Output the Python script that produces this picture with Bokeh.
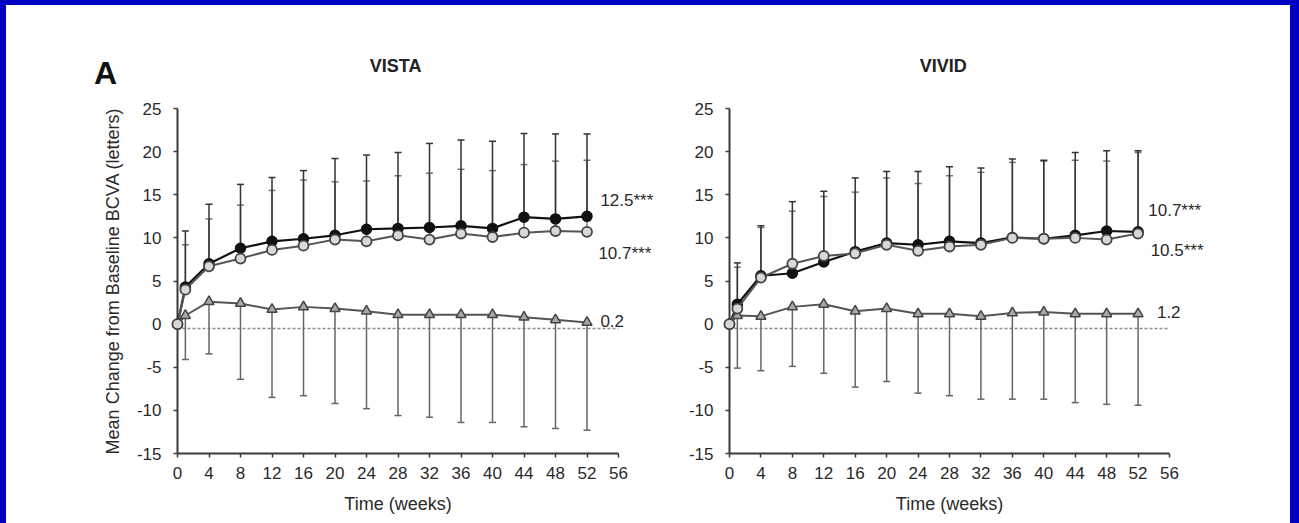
import math
from bokeh.plotting import figure
from bokeh.layouts import row
from bokeh.models import Span, FixedTicker, Range1d
from bokeh.core.properties import value
from bokeh.embed import file_html
from bokeh.resources import INLINE

nan = math.nan

# ---------------- data ----------------
weeks = [0, 1, 4, 8, 12, 16, 20, 24, 28, 32, 36, 40, 44, 48, 52]
x_ticks = list(range(0, 57, 4))
y_ticks = list(range(-15, 26, 5))

# VISTA
vista_2q4 = [0, 4.3, 7.0, 8.8, 9.6, 9.9, 10.3, 11.0, 11.1, 11.2, 11.4, 11.1, 12.4, 12.2, 12.5]
vista_2q4_top = [nan, 10.8, 13.9, 16.2, 17.0, 17.8, 19.2, 19.6, 19.9, 20.95, 21.35, 21.2, 22.1, 22.05, 22.05]
vista_2q8 = [0, 4.0, 6.7, 7.6, 8.6, 9.1, 9.8, 9.6, 10.3, 9.8, 10.5, 10.1, 10.6, 10.8, 10.7]
vista_2q8_top = [nan, 9.2, 12.2, 13.8, 15.5, 16.7, 16.5, 16.6, 17.2, 17.5, 17.95, 17.8, 18.5, 18.9, 19.0]
vista_laser = [0, 1.0, 2.6, 2.4, 1.7, 2.0, 1.8, 1.5, 1.1, 1.1, 1.1, 1.1, 0.8, 0.5, 0.2]
vista_laser_bottom = [nan, -4.1, -3.45, -6.4, -8.5, -8.3, -9.2, -9.8, -10.6, -10.8, -11.4, -11.4, -11.9, -12.1, -12.3]
vista_end_labels = ["12.5***", "10.7***", "0.2"]

# VIVID
vivid_2q4 = [0, 2.3, 5.6, 5.9, 7.2, 8.4, 9.4, 9.2, 9.6, 9.4, 10.05, 9.9, 10.3, 10.8, 10.7]
vivid_2q4_top = [nan, 7.1, 11.4, 14.2, 15.4, 16.95, 17.7, 17.7, 18.25, 18.1, 19.15, 19.0, 19.9, 20.1, 20.1]
vivid_2q8 = [0, 1.8, 5.4, 7.0, 7.9, 8.2, 9.2, 8.5, 9.0, 9.2, 10.0, 9.9, 10.0, 9.8, 10.5]
vivid_2q8_top = [nan, 6.6, 11.2, 13.1, 14.8, 15.3, 16.95, 16.3, 17.2, 17.6, 18.75, 18.9, 19.0, 18.9, 19.9]
vivid_laser = [0, 1.0, 0.9, 2.0, 2.3, 1.5, 1.8, 1.2, 1.2, 0.9, 1.3, 1.4, 1.2, 1.2, 1.2]
vivid_laser_bottom = [nan, -5.1, -5.4, -4.9, -5.7, -7.3, -6.65, -8.0, -8.3, -8.7, -8.7, -8.7, -9.1, -9.3, -9.4]
vivid_end_labels = ["10.7***", "10.5***", "1.2"]

titles = ["VISTA", "VIVID"]
panel_letter = "A"
y_label = "Mean Change from Baseline BCVA (letters)"
x_label = "Time (weeks)"

# ---------------- style ----------------
FONT = "Liberation Sans"
TXT = "#2a2a2a"
AXC = "#3a3a3a"
H = 518


def add_text(p, x, y, txt, size, bold=False, align="left", color=TXT):
    p.text(x=[x], y=[y], text=[txt], text_font=value(FONT), text_font_size=size,
           text_font_style="bold" if bold else "normal", text_color=color,
           text_align=align, text_baseline="middle", level="overlay")


def make_panel(width, b_left, b_right, title, title_x, q4, q4_top, q8, q8_top, laser, laser_bot,
               labels, label_pos, ylab=None):
    p = figure(width=width, height=H, x_range=Range1d(0, 56), y_range=Range1d(-15, 25),
               output_backend="svg", toolbar_location=None,
               min_border_left=b_left, min_border_right=b_right,
               min_border_top=103, min_border_bottom=70)
    p.outline_line_color = None
    p.xgrid.visible = False
    p.ygrid.visible = False
    p.background_fill_color = "white"
    p.border_fill_color = "white"

    for ax in (p.xaxis[0], p.yaxis[0]):
        ax.axis_line_color = AXC
        ax.axis_line_width = 2
        ax.major_tick_line_color = AXC
        ax.major_tick_line_width = 1.5
        ax.major_tick_out = 4
        ax.major_tick_in = 0
        ax.minor_tick_out = 0
        ax.minor_tick_in = 0
        ax.major_label_text_font = FONT
        ax.major_label_text_font_size = "17px"
        ax.major_label_text_color = TXT
        ax.axis_label_text_font = FONT
        ax.axis_label_text_font_size = "18px"
        ax.axis_label_text_font_style = "normal"
        ax.axis_label_text_color = TXT
    p.xaxis.ticker = FixedTicker(ticks=x_ticks)
    p.yaxis.ticker = FixedTicker(ticks=y_ticks)
    p.yaxis.major_label_overrides = {t: str(t) for t in y_ticks}
    p.xaxis.major_label_standoff = 9
    p.yaxis.major_label_standoff = 12
    p.xaxis.axis_label = x_label
    p.xaxis.axis_label_standoff = 12
    if ylab:
        p.yaxis.axis_label = ylab
        p.yaxis.axis_label_standoff = 11

    # reference dashed line
    p.add_layout(Span(location=-0.5, dimension="width", line_color="#8a8a8a",
                      line_dash="3 2", line_width=1.5))

    # error bars
    p.segment(x0=weeks, y0=laser, x1=weeks, y1=laser_bot, line_color="#666666",
              line_width=1.5, level="overlay")
    p.scatter(weeks, laser_bot, marker="dash", size=7, line_color="#666666",
              line_width=1.5, level="overlay")
    p.segment(x0=weeks, y0=q8, x1=weeks, y1=q8_top, line_color="#777777",
              line_width=1.5, level="overlay")
    p.scatter(weeks, q8_top, marker="dash", size=7, line_color="#777777",
              line_width=1.5, level="overlay")
    p.segment(x0=weeks, y0=q4, x1=weeks, y1=q4_top, line_color="#333333",
              line_width=1.5, level="overlay")
    p.scatter(weeks, q4_top, marker="dash", size=7, line_color="#333333",
              line_width=1.5, level="overlay")

    # series
    p.line(weeks, laser, line_color="#555555", line_width=2, level="overlay")
    p.scatter(weeks, laser, marker="triangle", size=10, fill_color="#a8a8a8",
              line_color="#444444", line_width=1.5, level="overlay")
    p.line(weeks, q4, line_color="#111111", line_width=2.2, level="overlay")
    p.scatter(weeks, q4, marker="circle", size=10, fill_color="#111111",
              line_color="#111111", line_width=1.5, level="overlay")
    p.line(weeks, q8, line_color="#555555", line_width=2, level="overlay")
    p.scatter(weeks, q8, marker="circle", size=10, fill_color="#d8d8d8",
              line_color="#444444", line_width=1.8, level="overlay")

    # end-of-study labels
    for txt, (lx, ly) in zip(labels, label_pos):
        add_text(p, lx, ly, txt, "17px")

    # title
    add_text(p, title_x, 29.95, title, "18px", bold=True, align="center", color="#222222")
    return p


p1 = make_panel(660, 171, 48, titles[0], 27.7,
                vista_2q4, vista_2q4_top, vista_2q8, vista_2q8_top, vista_laser, vista_laser_bottom,
                vista_end_labels, [(53.7, 14.3), (53.45, 8.15), (53.7, 0.4)], ylab=y_label)
add_text(p1, -9.14, 29.1, panel_letter, "32px", bold=True, align="center", color="#111111")

p2 = make_panel(624, 63, 121, titles[1], 27.2,
                vivid_2q4, vivid_2q4_top, vivid_2q8, vivid_2q8_top, vivid_laser, vivid_laser_bottom,
                vivid_end_labels, [(53.3, 13.2), (53.6, 8.55), (54.4, 1.4)])

p = row(p1, p2, styles={"background-color": "white"})

html = file_html(p, INLINE)
html = html.replace("</head>",
                    "<style>html,body{background:#0000c4;}body{margin:5px 0 0 6px;overflow:hidden;}</style></head>", 1)
open("out.html", "w").write(html)
